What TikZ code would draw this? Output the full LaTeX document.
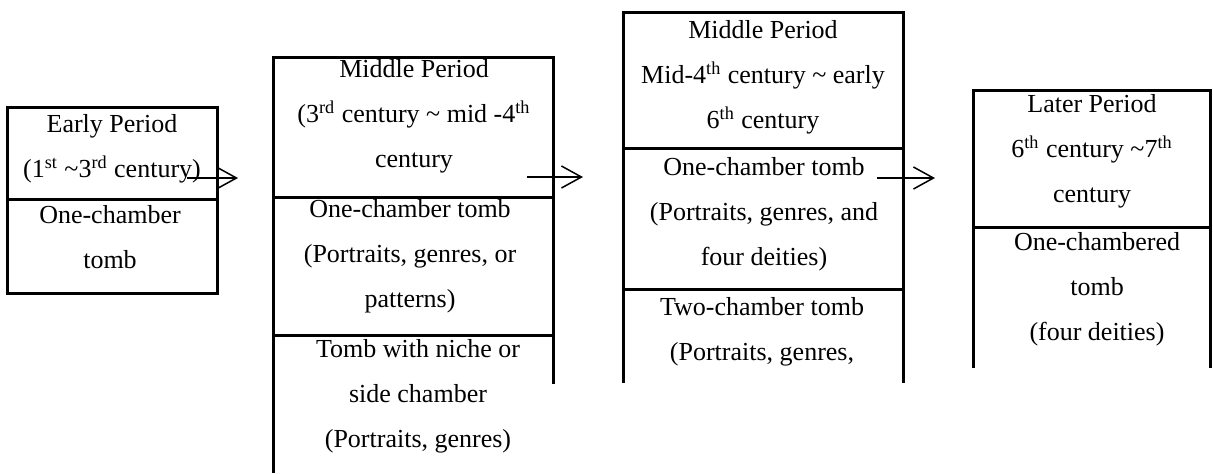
\documentclass[tikz,border=0pt]{standalone}
\usepackage{fontspec}
\setmainfont{Liberation Serif}
\usetikzlibrary{arrows.meta}

\begin{document}
\begin{tikzpicture}[x=0.5pt,y=-0.5pt]
        \tikzstyle{every node}=[inner sep=0pt, align=center, anchor=base, font=\fontsize{13}{22.5}\selectfont]
        \tikzstyle{frame}=[line width=1.5pt]
        \tikzstyle{link}=[line width=0.75pt, -{Straight Barb[length=10pt,width=11pt]}]
        \useasboundingbox (0,0) rectangle (1213,473);
        % the four periods, open at the bottom where the page cut them
        \draw[frame] (7,107) rectangle (217,293) (7,199) -- (217,199);
        \draw[frame] (273,473) -- (273,57) -- (553,57) -- (553,384) (273,197) -- (553,197) (273,335) -- (553,335);
        \draw[frame] (623,383) -- (623,12) -- (903,12) -- (903,383) (623,148) -- (903,148) (623,289) -- (903,289);
        \draw[frame] (973,368) -- (973,90) -- (1210,90) -- (1210,368) (973,227) -- (1210,227);
        % nodes sit on the baseline of their last line
        \node (early) at (112,177) {Early Period\\(1\textsuperscript{st} \textasciitilde3\textsuperscript{rd} century)};
        \node (earlytomb) at (110,268) {One-chamber\\tomb};
        \node (mid) at (414,167) {Middle Period\\(3\textsuperscript{rd} century \textasciitilde{} mid -4\textsuperscript{th}\\century};
        \node (midtomb) at (410,307) {One-chamber tomb\\(Portraits, genres, or\\patterns)};
        \node (midniche) at (418,447) {Tomb with niche or\\side chamber\\(Portraits, genres)};
        \node (midlate) at (763,128) {Middle Period\\Mid-4\textsuperscript{th} century \textasciitilde{} early\\6\textsuperscript{th} century};
        \node (midone) at (764,265) {One-chamber tomb\\(Portraits, genres, and\\four deities)};
        \node (midtwo) at (762,360) {Two-chamber tomb\\(Portraits, genres,};
        \node (late) at (1092,202) {Later Period\\6\textsuperscript{th} century \textasciitilde7\textsuperscript{th}\\century};
        \node (latetomb) at (1097,340) {One-chambered\\tomb\\(four deities)};
        \coordinate (a1) at (187,178); \coordinate (b1) at (238,178);
        \coordinate (a2) at (527,177); \coordinate (b2) at (583,177);
        \coordinate (a3) at (877,178); \coordinate (b3) at (935,178);
        \draw[link] (a1) -- (b1);
        \draw[link] (a2) -- (b2);
        \draw[link] (a3) -- (b3);
\end{tikzpicture}
\end{document}
